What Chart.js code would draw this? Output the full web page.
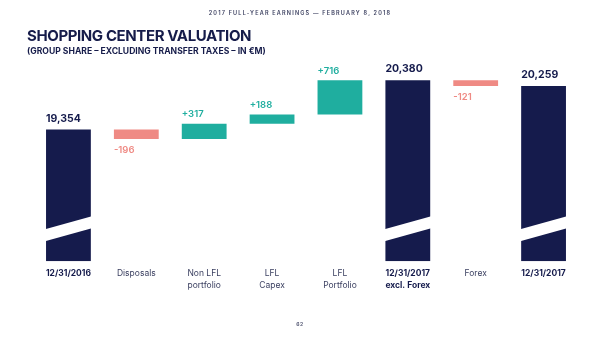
<!DOCTYPE html>
<html>
<head>
<meta charset="utf-8">
<script src="https://cdn.jsdelivr.net/npm/chart.js@4.4.1/dist/chart.umd.min.js"></script>
<style>
  body { margin: 0; background: #fff; }
  #wrap { position: relative; width: 600px; height: 337px; overflow: hidden; font-family: Inter, "Noto Sans", sans-serif; }
  #wrap canvas { position: absolute; left: 0; top: 0; }
  .hdr { position: absolute; top: 10px; left: 0; width: 600px; text-align: center; font-size: 5.5px; font-weight: 600; letter-spacing: 1.2px; color: #3c4060; }
  .title { position: absolute; left: 27px; top: 26px; font-size: 15px; font-weight: 700; color: #161c4a; letter-spacing: -0.4px; }
  .sub { position: absolute; left: 27px; top: 46px; font-size: 8.6px; font-weight: 700; color: #161c4a; }
  .page { position: absolute; top: 321px; left: 0; width: 600px; text-align: center; font-size: 5px; font-weight: 700; color: #5a5e78; letter-spacing: 0.5px; }
</style>
</head>
<body>
<div id="wrap">
  <canvas id="chart" width="600" height="337"></canvas>
  <div class="hdr">2017 FULL-YEAR EARNINGS — FEBRUARY 8, 2018</div>
  <div class="title">SHOPPING CENTER VALUATION</div>
  <div class="sub">(GROUP SHARE – EXCLUDING TRANSFER TAXES – IN €M)</div>
  <div class="page">62</div>
</div>
<script>
// Data
var categories = [
  '12/31/2016', 'Disposals', ['Non LFL', 'portfolio'], ['LFL', 'Capex'],
  ['LFL', 'Portfolio'], ['12/31/2017', 'excl. Forex'], 'Forex', '12/31/2017'
];
var values = [19354, -196, 317, 188, 716, 20380, -121, 20259];
var kinds = ['total', 'delta', 'delta', 'delta', 'delta', 'total', 'delta', 'total'];
var valueLabels = ['19,354', '-196', '+317', '+188', '+716', '20,380', '-121', '20,259'];

var axisMin = 16611, axisMax = 20757;

var NAVY = '#151b4c', TEAL = '#1fae9f', SALMON = '#ef8a84';

// build floating bars
var ranges = [], colors = [];
var running = 0;
for (var i = 0; i < values.length; i++) {
  if (kinds[i] == 'total') {
    ranges.push([axisMin, values[i]]);
    running = values[i];
    colors.push(NAVY);
  } else {
    ranges.push([running, running + values[i]]);
    running = running + values[i];
    colors.push(values[i] < 0 ? SALMON : TEAL);
  }
}

// labels + axis break
var waterfallDecor = {
  id: 'waterfallDecor',
  afterDatasetsDraw: function(chart) {
    var ctx = chart.ctx;
    var meta = chart.getDatasetMeta(0);
    var bottom = chart.chartArea.bottom;
    ctx.save();
    meta.data.forEach(function(bar, i) {
      var left = bar.x - bar.width / 2;
      var right = bar.x + bar.width / 2;
      var top = Math.min(bar.y, bar.base);
      var low = Math.max(bar.y, bar.base);
      ctx.textAlign = 'left';
      ctx.textBaseline = 'middle';
      if (kinds[i] == 'total') {
        // white slash
        ctx.fillStyle = '#ffffff';
        ctx.beginPath();
        ctx.moveTo(left - 1, bottom - 32);
        ctx.lineTo(right + 1, bottom - 45);
        ctx.lineTo(right + 1, bottom - 33);
        ctx.lineTo(left - 1, bottom - 20);
        ctx.closePath();
        ctx.fill();
        ctx.font = '700 10.5px Inter, "Noto Sans", sans-serif';
        ctx.fillStyle = NAVY;
        ctx.fillText(valueLabels[i], left, top - 11);
      } else if (values[i] < 0) {
        ctx.font = '600 9.5px Inter, "Noto Sans", sans-serif';
        ctx.fillStyle = SALMON;
        ctx.fillText(valueLabels[i], left, low + 11);
      } else {
        ctx.font = '600 9.5px Inter, "Noto Sans", sans-serif';
        ctx.fillStyle = TEAL;
        ctx.fillText(valueLabels[i], left, top - 9.5);
      }
    });
    ctx.restore();
  }
};

new Chart(document.getElementById('chart'), {
  type: 'bar',
  data: {
    labels: categories,
    datasets: [{
      data: ranges,
      backgroundColor: colors,
      borderWidth: 0,
      borderSkipped: false,
      categoryPercentage: 1,
      barPercentage: 0.66
    }]
  },
  options: {
    responsive: false,
    animation: false,
    layout: { padding: { left: 34.5, right: 22.5, top: 62, bottom: 39 } },
    plugins: { legend: { display: false }, tooltip: { enabled: false } },
    scales: {
      y: { display: false, min: axisMin, max: axisMax },
      x: {
        grid: { display: false, drawTicks: false },
        border: { display: false },
        ticks: {
          padding: 6,
          maxRotation: 0,
          autoSkip: false,
          color: function(c) { return kinds[c.index] == 'total' ? '#151b4c' : '#3a3f60'; },
          font: function(c) {
            return {
              family: 'Inter, "Noto Sans", sans-serif',
              size: 8.5,
              lineHeight: 1.45,
              weight: kinds[c.index] == 'total' ? '700' : '400'
            };
          }
        }
      }
    }
  },
  plugins: [waterfallDecor]
});
</script>
</body>
</html>
